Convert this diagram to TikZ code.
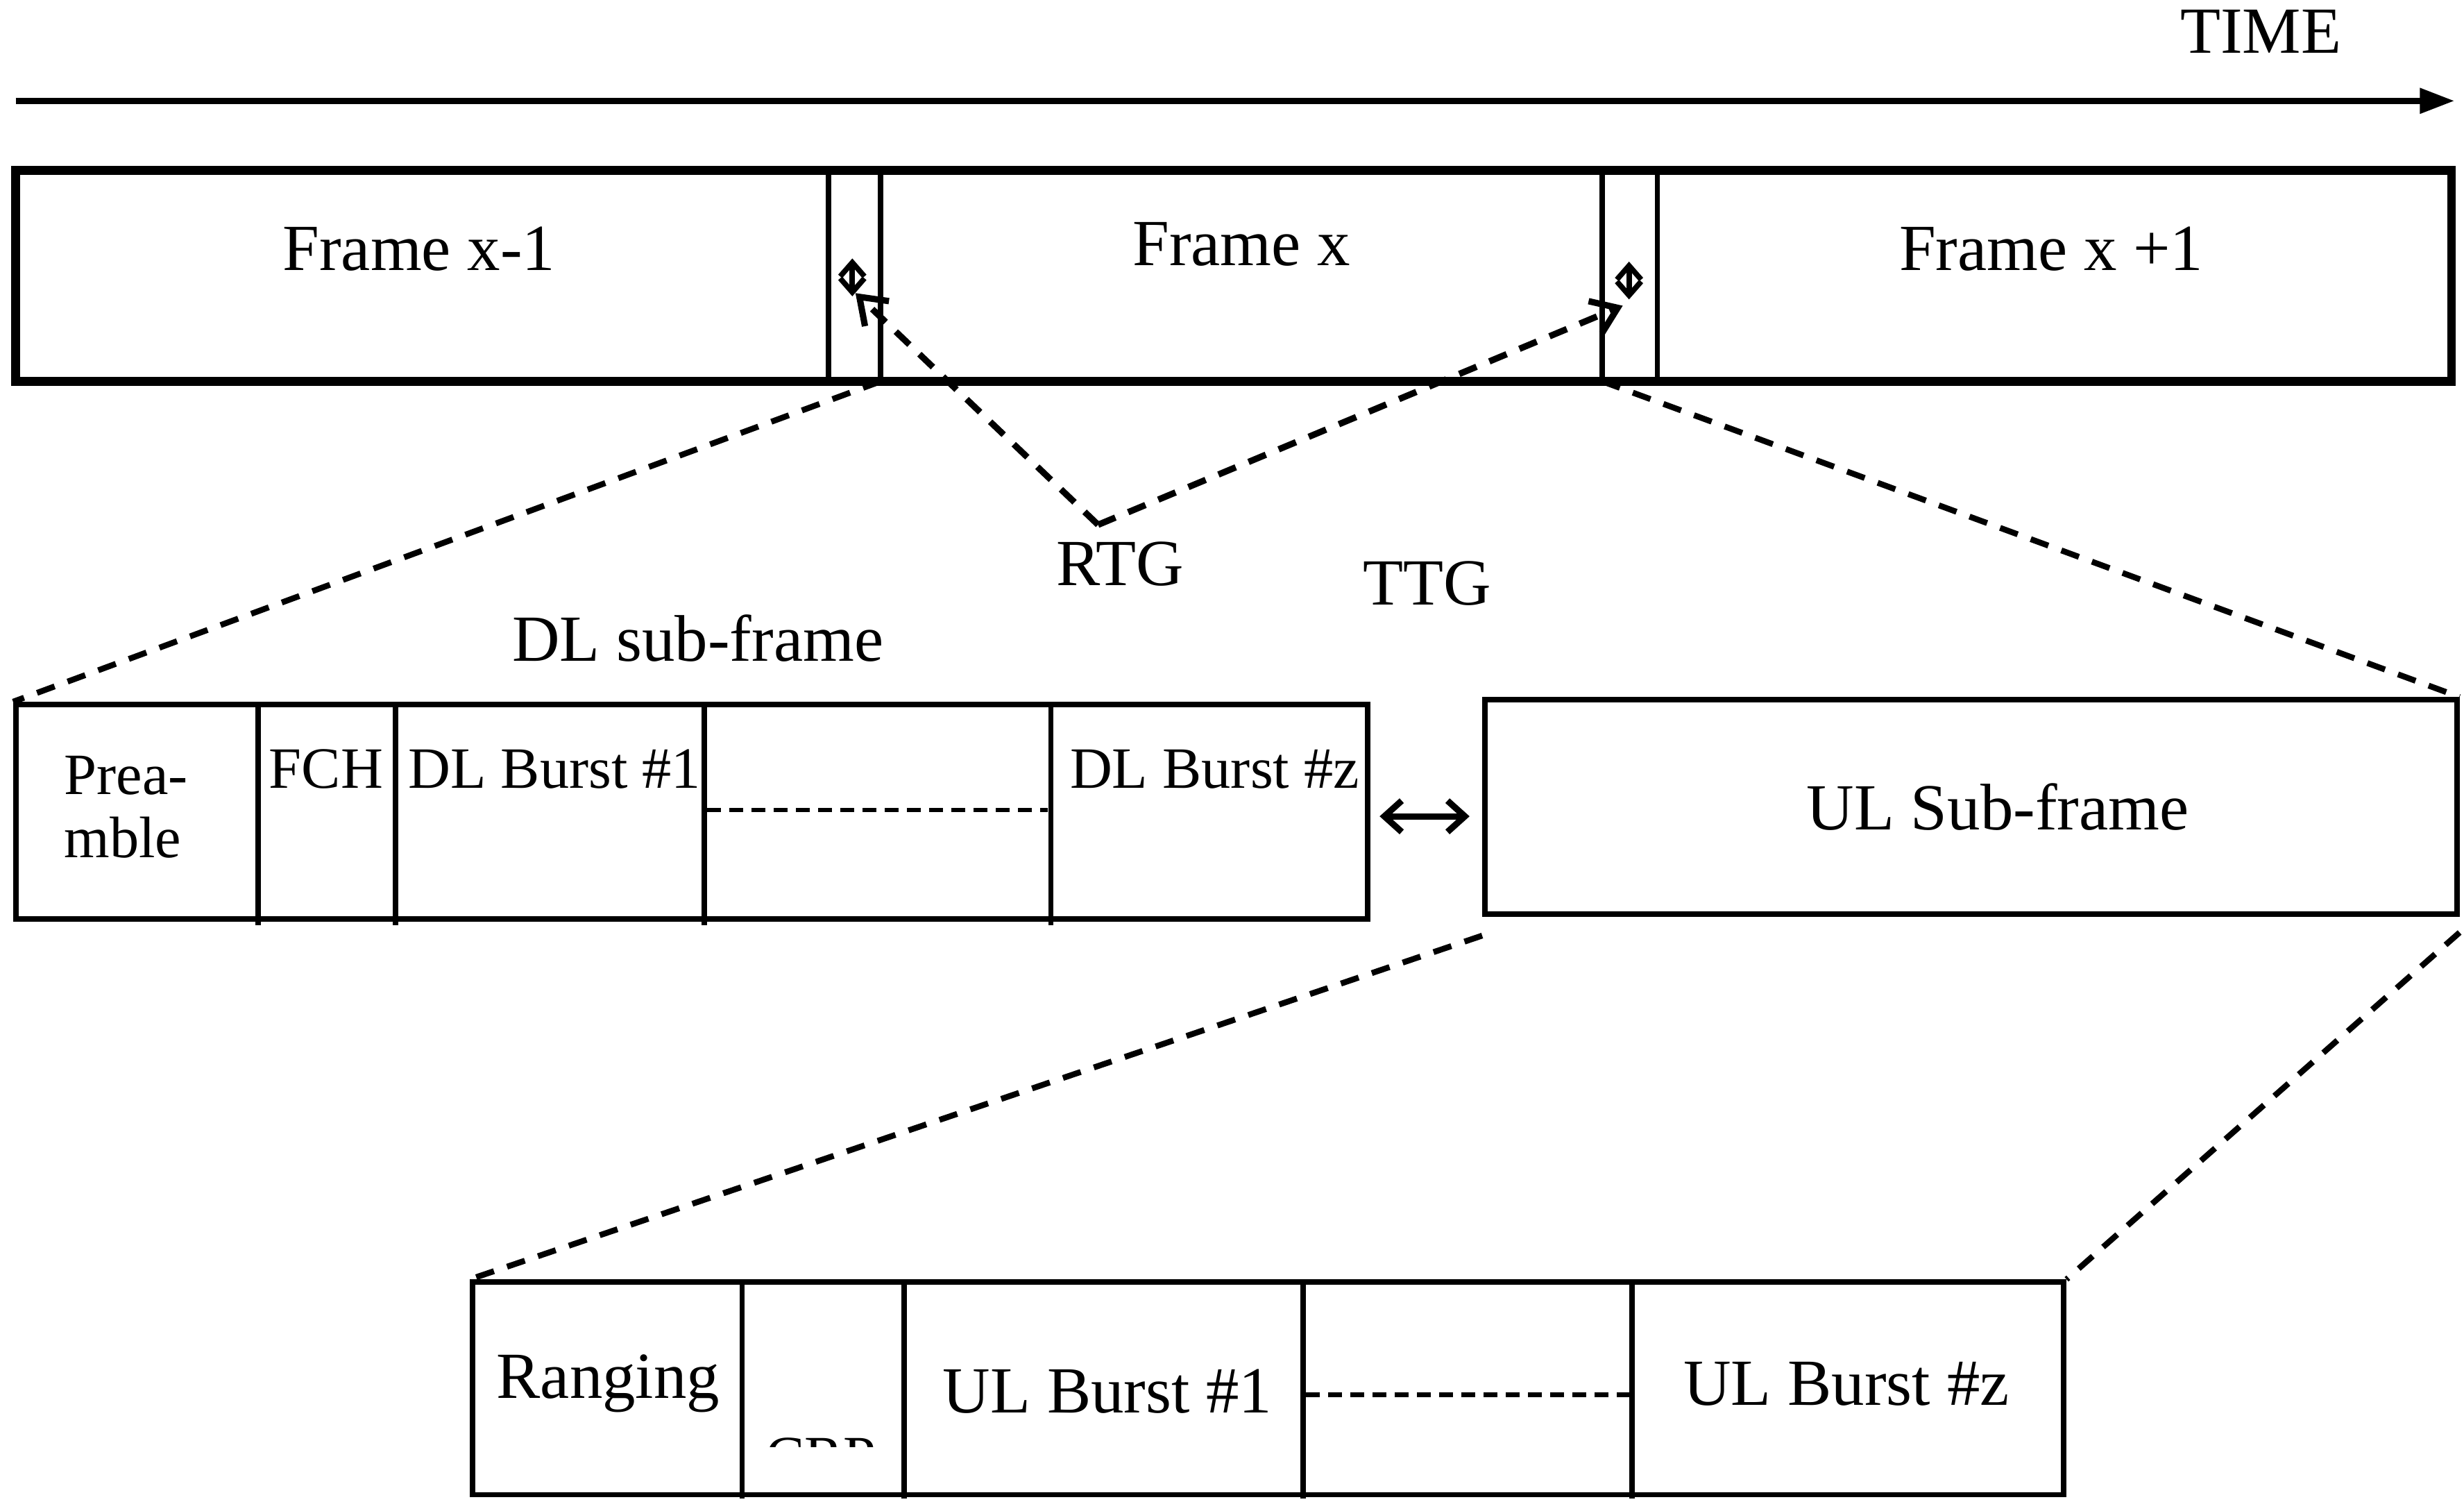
\documentclass[tikz,border=0pt]{standalone}
\usepackage{fontspec}
\setmainfont{Liberation Serif}
\usetikzlibrary{arrows.meta, positioning, calc}

\begin{document}
\begin{tikzpicture}[x=0.02271cm, y=-0.02271cm,
    frame/.style={draw, line width=3.6pt, minimum width=1546*0.02271cm, minimum height=134*0.02271cm, inner sep=0pt},
    box/.style={draw, line width=2.2pt, inner sep=0pt},
    sep/.style={line width=2.2pt},
    zoomline/.style={line width=2.4pt, dash pattern=on 0.27cm off 0.2cm},
    gapline/.style={line width=2.6pt, dash pattern=on 0.27cm off 0.2cm, -{Straight Barb[length=0.35cm, width=0.5cm, line width=2.6pt]}},
    filler/.style={line width=1.9pt, dash pattern=on 0.2cm off 0.12cm},
    txt/.style={font=\fontsize{27}{29}\selectfont},
    smalltxt/.style={font=\fontsize{24}{26}\selectfont}
  ]
    \useasboundingbox (0,0) rectangle (1564,953);

    % Time axis
    \coordinate (t0) at (10,64);
    \coordinate (t1) at (1558,64);
    \draw[line width=2.6pt, -{Triangle[length=0.5cm, width=0.35cm]}] (t0) -- (t1);
    \node[txt] (time) at (1435,20) {TIME};

    % Frames
    \node[frame] (frames) at (783,175) {};
    \foreach \xx in {526,559,1017,1052}
      \draw[sep] (\xx,108) -- (\xx,242);
    \node[txt] (fprev) at (266,158) {Frame x-1};
    \node[txt] (fcur) at (788,155) {Frame x};
    \node[txt] (fnext) at (1302,158) {Frame x +1};

    % Gap markers
    \coordinate (rtgmark) at (541,176);
    \coordinate (ttgmark) at (1034,178);
    \foreach \m in {rtgmark, ttgmark}
      \draw[line width=2.2pt, {Straight Barb[length=0.2cm, width=0.35cm]}-{Straight Barb[length=0.2cm, width=0.35cm]}] ($(\m)+(0,-12)$) -- ($(\m)+(0,12)$);

    % RTG / TTG
    \coordinate (apex) at (697,333);
    \coordinate (rtgend) at (543,186);
    \coordinate (ttgend) at (1030,194);
    \draw[gapline] (apex) -- (rtgend);
    \draw[gapline] (apex) -- (ttgend);
    \node[txt] (rtg) at (711,358) {RTG};
    \node[txt] (ttg) at (906,370) {TTG};

    % DL sub-frame
    \node[txt] (dllabel) at (443,405) {DL sub-frame};
    \node[box, minimum width=858*0.02271cm, minimum height=136*0.02271cm] (dl) at (439,515) {};
    \foreach \xx in {164,251,447,667}
      \draw[sep] (\xx,447) -- (\xx,587);
    \node[smalltxt, align=left] (pre) at (80,512) {Prea-\\mble};
    \node[smalltxt] (fch) at (207,488) {FCH};
    \node[smalltxt] (dlb1) at (352,488) {DL Burst \#1};
    \node[smalltxt] (dlbz) at (771,488) {DL Burst \#z};
    \coordinate (dld0) at (449,514);
    \coordinate (dld1) at (665,514);
    \draw[filler] (dld0) -- (dld1);

    % UL sub-frame
    \node[box, minimum width=617*0.02271cm, minimum height=136*0.02271cm] (ul) at (1251,512) {};
    \node[txt] (ullabel) at (1268,512) {UL Sub-frame};
    \draw[line width=2.6pt, {Straight Barb[length=0.25cm, width=0.45cm]}-{Straight Barb[length=0.25cm, width=0.45cm]}] ($(dl.east)+(6,3)$) -- ($(ul.west)+(-8,6)$);

    % Frame to DL/UL zoom
    \draw[zoomline] (559,242) -- (dl.north west);
    \draw[zoomline] (1017,242) -- (ul.north east);

    % UL bursts
    \node[box, minimum width=1010*0.02271cm, minimum height=135*0.02271cm] (ulb) at (805,881) {};
    \draw[zoomline] ($(ul.south west)+(0,12)$) -- (ulb.north west);
    \draw[zoomline] ($(ul.south east)+(0,10)$) -- (ulb.north east);
    \foreach \xx in {471,574,827,1036}
      \draw[sep] (\xx,814) -- (\xx,951);
    \node[txt] (rng) at (386,878) {Ranging};
    \begin{scope}
      \clip (480,800) rectangle (570,918);
      \node[smalltxt] (crp) at (521,925) {CRP};
    \end{scope}
    \node[txt] (ulb1) at (703,883) {UL Burst \#1};
    \node[txt] (ulbz) at (1172,878) {UL Burst \#z};
    \coordinate (uld0) at (829,885);
    \coordinate (uld1) at (1034,885);
    \draw[filler] (uld0) -- (uld1);
\end{tikzpicture}
\end{document}
